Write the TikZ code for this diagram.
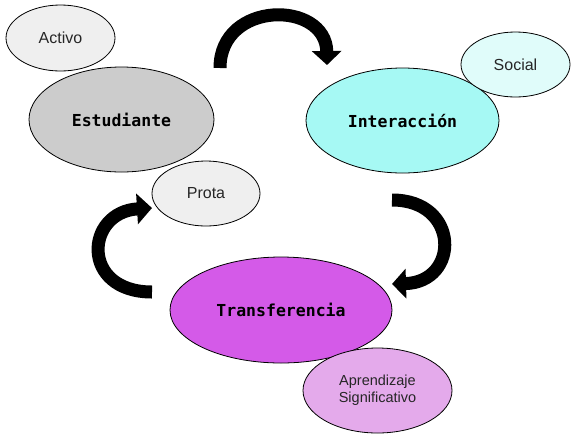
\documentclass[tikz,border=0pt]{standalone}
\usepackage{fontspec}
\setmainfont{Liberation Sans}
\setmonofont{DejaVu Sans Mono}
\usepackage{tikz}
\usetikzlibrary{arrows.meta, shapes.geometric}
\definecolor{grisclaro}{HTML}{EFEFEF}
\definecolor{gris}{HTML}{CCCCCC}
\definecolor{cian}{HTML}{A6F9F4}
\definecolor{cianclaro}{HTML}{E0FCFA}
\definecolor{magenta}{HTML}{D45AE8}
\definecolor{lila}{HTML}{E4AAEB}
\tikzset{
  globo/.style={ellipse, draw=black, line width=0.8pt, inner sep=0pt,
    font=\fontsize{14.5}{17}\selectfont, text=black!85, align=center},
  central/.style={globo, text=black, font=\fontsize{16.5}{19}\selectfont\ttfamily\bfseries},
  flecha/.style={line width=13pt, black}
}

\begin{document}
\begin{tikzpicture}[x=1pt, y=-1pt]
      \useasboundingbox (0,0) rectangle (572,437);
      \node[globo, fill=grisclaro, minimum width=109pt, minimum height=66pt] (activo) at (60.5, 38) {\fontsize{16}{19}\selectfont Activo};
      \node[central, fill=gris, minimum width=185pt, minimum height=105pt] (estudiante) at (121.5, 119.5) {Estudiante};
      \node[globo, fill=grisclaro, minimum width=108pt, minimum height=65pt] (prota) at (206, 193.5) {\fontsize{16}{19}\selectfont Prota};
      \node[central, fill=cian, minimum width=193pt, minimum height=105pt] (interaccion) at (402.5, 120.5) {Interacción};
      \node[globo, fill=cianclaro, minimum width=109pt, minimum height=65pt] (social) at (515.5, 64.5) {\fontsize{16}{19}\selectfont Social};
      \node[central, fill=magenta, minimum width=222pt, minimum height=106pt] (transferencia) at (281, 310) {Transferencia};
      \node[globo, fill=lila, minimum width=149pt, minimum height=85pt] (aprendizaje) at (377.5, 390.5) {Aprendizaje\\Significativo};
      \coordinate (a1) at (220, 68);
      \coordinate (a2) at (327, 65);
      \coordinate (b1) at (392, 200);
      \coordinate (b2) at (392, 284);
      \coordinate (c1) at (152, 292);
      \coordinate (c2) at (152, 208);
      \draw[flecha, -{Triangle[width=29pt, length=14pt]}] (a1) .. controls (220, 0) and (326, 0) .. (a2);
      \draw[flecha, -{Triangle[width=29pt, length=14pt]}] (b1) .. controls (460, 200) and (460, 282) .. (b2);
      \draw[flecha, -{Triangle[width=30pt, length=15pt]}] (c1) .. controls (80, 292) and (85, 212) .. (c2);
    \end{tikzpicture}
\end{document}
